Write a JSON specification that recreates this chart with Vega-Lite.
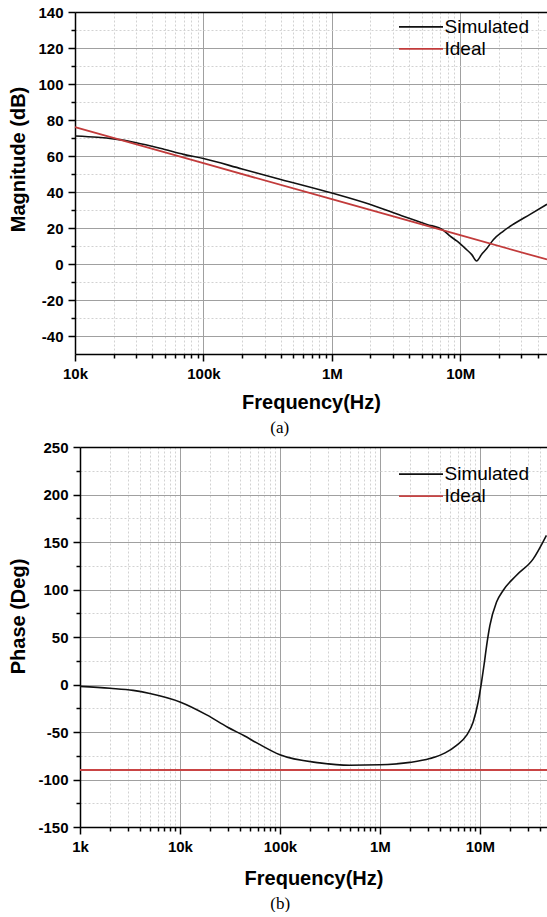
{
  "$schema": "https://vega.github.io/schema/vega-lite/v6.json",
  "background": "white",
  "padding": {"left": 8, "top": 5, "right": 0, "bottom": 0},
  "spacing": 4,
  "columns": 1,
  "align": "none",
  "config": {
    "view": {"stroke": null},
    "font": "Liberation Sans",
    "axis": {
      "labelFont": "Liberation Sans", "labelFontSize": 15, "labelFontWeight": "bold", "labelColor": "black",
      "titleFont": "Liberation Sans", "titleFontSize": 20, "titleFontWeight": "bold", "titleColor": "black",
      "domainColor": "black", "domainWidth": 1.5, "tickColor": "black", "tickWidth": 1.5,
      "labelOverlap": false, "labelFlush": false, "labelPadding": 5, "gridWidth": 1
    },
    "legend": {
      "labelFont": "Liberation Sans", "labelFontSize": 19, "labelColor": "black",
      "symbolType": "M-4,0H4", "symbolSize": 121, "symbolStrokeWidth": 1.8,
      "labelOffset": 14, "rowPadding": 2, "padding": 0, "orient": "none"
    },
    "title": {"font": "Liberation Serif", "fontSize": 17, "fontWeight": "normal", "color": "black", "orient": "bottom", "anchor": "middle", "frame": "bounds"}
  },
  "datasets": {
    "mag": [
      {"f": 10000, "v": 76, "series": "Ideal"},
      {"f": 100000, "v": 56, "series": "Ideal"},
      {"f": 1000000, "v": 36, "series": "Ideal"},
      {"f": 10000000, "v": 16, "series": "Ideal"},
      {"f": 47400000, "v": 2.5, "series": "Ideal"},
      {"f": 10000, "v": 71.1, "series": "Simulated"},
      {"f": 15000, "v": 70.4, "series": "Simulated"},
      {"f": 20000, "v": 69.5, "series": "Simulated"},
      {"f": 30000, "v": 67.4, "series": "Simulated"},
      {"f": 50000, "v": 63.6, "series": "Simulated"},
      {"f": 70000, "v": 60.9, "series": "Simulated"},
      {"f": 100000, "v": 58.6, "series": "Simulated"},
      {"f": 200000, "v": 52.8, "series": "Simulated"},
      {"f": 400000, "v": 47.0, "series": "Simulated"},
      {"f": 1000000, "v": 39.4, "series": "Simulated"},
      {"f": 2000000, "v": 33.0, "series": "Simulated"},
      {"f": 3500000, "v": 26.8, "series": "Simulated"},
      {"f": 5500000, "v": 22.0, "series": "Simulated"},
      {"f": 7400000, "v": 18.7, "series": "Simulated"},
      {"f": 8300000, "v": 15.6, "series": "Simulated"},
      {"f": 9400000, "v": 12.8, "series": "Simulated"},
      {"f": 11000000, "v": 8.5, "series": "Simulated"},
      {"f": 12300000, "v": 5.2, "series": "Simulated"},
      {"f": 13400000, "v": 1.7, "series": "Simulated"},
      {"f": 14700000, "v": 5.4, "series": "Simulated"},
      {"f": 16100000, "v": 8.6, "series": "Simulated"},
      {"f": 18100000, "v": 13.5, "series": "Simulated"},
      {"f": 21700000, "v": 18.3, "series": "Simulated"},
      {"f": 25900000, "v": 22.1, "series": "Simulated"},
      {"f": 35000000, "v": 27.6, "series": "Simulated"},
      {"f": 47400000, "v": 33.2, "series": "Simulated"}
    ],
    "phase": [
      {"f": 1000, "v": -90, "series": "Ideal"},
      {"f": 47000000, "v": -90, "series": "Ideal"},
      {"f": 1000, "v": -2, "series": "Simulated"},
      {"f": 2000, "v": -4, "series": "Simulated"},
      {"f": 3400, "v": -6.2, "series": "Simulated"},
      {"f": 5000, "v": -9.5, "series": "Simulated"},
      {"f": 10000, "v": -18.4, "series": "Simulated"},
      {"f": 18500, "v": -32, "series": "Simulated"},
      {"f": 30000, "v": -45, "series": "Simulated"},
      {"f": 44000, "v": -54, "series": "Simulated"},
      {"f": 60000, "v": -62, "series": "Simulated"},
      {"f": 100000, "v": -74, "series": "Simulated"},
      {"f": 250000, "v": -82.5, "series": "Simulated"},
      {"f": 500000, "v": -85, "series": "Simulated"},
      {"f": 1000000, "v": -84.5, "series": "Simulated"},
      {"f": 2000000, "v": -82, "series": "Simulated"},
      {"f": 3160000, "v": -78, "series": "Simulated"},
      {"f": 4500000, "v": -72, "series": "Simulated"},
      {"f": 5850000, "v": -64, "series": "Simulated"},
      {"f": 7360000, "v": -53.6, "series": "Simulated"},
      {"f": 8580000, "v": -39.5, "series": "Simulated"},
      {"f": 9620000, "v": -18.4, "series": "Simulated"},
      {"f": 10400000, "v": 2.6, "series": "Simulated"},
      {"f": 11000000, "v": 20, "series": "Simulated"},
      {"f": 11700000, "v": 41, "series": "Simulated"},
      {"f": 12600000, "v": 62, "series": "Simulated"},
      {"f": 14700000, "v": 86.8, "series": "Simulated"},
      {"f": 17100000, "v": 99, "series": "Simulated"},
      {"f": 23300000, "v": 115, "series": "Simulated"},
      {"f": 34100000, "v": 132, "series": "Simulated"},
      {"f": 46400000, "v": 157, "series": "Simulated"}
    ]
  },
  "resolve": {"scale": {"color": "independent"}},
  "concat": [
    {
      "width": 472,
      "height": 342,
      "title": {"text": "(a)", "offset": 8},
      "data": {"name": "mag"},
      "encoding": {
        "color": {
          "field": "series", "type": "nominal",
          "scale": {"domain": ["Simulated", "Ideal"], "range": ["#111111", "#c23b3b"]},
          "legend": {"title": null, "legendX": 336.5, "legendY": 5.3}
        },
        "y": {"field": "v", "type": "quantitative",
          "scale": {"domain": [-50, 140], "nice": false, "zero": false},
          "axis": {
            "title": "Magnitude (dB)", "titlePadding": 9, "titleY": 147, "grid": true,
            "values": [-40, -30, -20, -10, 0, 10, 20, 30, 40, 50, 60, 70, 80, 90, 100, 110, 120, 130, 140],
            "labelExpr": "datum.value % 20 == 0 ? '' + datum.value : ''",
            "tickSize": {"condition": {"test": "datum.value % 20 == 0", "value": 7}, "value": 4},
            "gridDash": {"condition": {"test": "datum.value % 20 == 0", "value": []}, "value": [2, 2]},
            "gridColor": {"condition": {"test": "datum.value % 20 == 0", "value": "#a0a0a0"}, "value": "#d2d2d2"}
          }}
      },
      "layer": [
        {
          "transform": [{"filter": "datum.series == 'Simulated'"}],
          "mark": {"type": "line", "strokeWidth": 1.6, "interpolate": "monotone"},
          "encoding": {
            "x": {"field": "f", "type": "quantitative",
              "scale": {"type": "log", "domain": [10000, 47400000], "nice": false},
              "axis": {
                "orient": "bottom", "title": "Frequency(Hz)", "titlePadding": 11, "grid": true,
                "values": [10000, 20000, 30000, 40000, 50000, 60000, 70000, 80000, 90000, 100000, 200000, 300000, 400000, 500000, 600000, 700000, 800000, 900000, 1000000, 2000000, 3000000, 4000000, 5000000, 6000000, 7000000, 8000000, 9000000, 10000000, 20000000, 30000000, 40000000],
                "labelExpr": "datum.value == 10000 ? '10k' : datum.value == 100000 ? '100k' : datum.value == 1000000 ? '1M' : datum.value == 10000000 ? '10M' : ''",
                "tickSize": {"condition": {"test": "indexof([10000,100000,1000000,10000000], datum.value) >= 0", "value": 7}, "value": 4},
                "gridDash": {"condition": {"test": "indexof([10000,100000,1000000,10000000], datum.value) >= 0", "value": []}, "value": [2, 2]},
                "gridColor": {"condition": {"test": "indexof([10000,100000,1000000,10000000], datum.value) >= 0", "value": "#a0a0a0"}, "value": "#d2d2d2"}
              }}
          }
        },
        {
          "transform": [{"filter": "datum.series == 'Ideal'"}],
          "mark": {"type": "line", "strokeWidth": 1.8},
          "encoding": {
            "x": {"field": "f", "type": "quantitative",
              "scale": {"type": "log", "domain": [10000, 47400000], "nice": false},
              "axis": {"orient": "top", "labels": false, "ticks": false, "grid": false, "title": null}}
          }
        }
      ],
      "resolve": {"axis": {"x": "independent"}}
    },
    {
      "width": 472,
      "height": 380,
      "title": {"text": "(b)", "offset": 8},
      "data": {"name": "phase"},
      "encoding": {
        "color": {
          "field": "series", "type": "nominal",
          "scale": {"domain": ["Simulated", "Ideal"], "range": ["#111111", "#c94444"]},
          "legend": {"title": null, "legendX": 336.5, "legendY": 17.7}
        },
        "y": {"field": "v", "type": "quantitative",
          "scale": {"domain": [-150, 250], "nice": false, "zero": false},
          "axis": {
            "title": "Phase (Deg)", "titlePadding": 9, "titleY": 169, "grid": true, "offset": -5,
            "values": [-150, -125, -100, -75, -50, -25, 0, 25, 50, 75, 100, 125, 150, 175, 200, 225, 250],
            "labelExpr": "datum.value % 50 == 0 ? '' + datum.value : ''",
            "tickSize": {"condition": {"test": "datum.value % 50 == 0", "value": 7}, "value": 4},
            "gridDash": {"condition": {"test": "datum.value % 50 == 0", "value": []}, "value": [2, 2]},
            "gridColor": {"condition": {"test": "datum.value % 50 == 0", "value": "#a0a0a0"}, "value": "#d2d2d2"}
          }}
      },
      "layer": [
        {
          "transform": [{"filter": "datum.series == 'Simulated'"}],
          "mark": {"type": "line", "strokeWidth": 1.6, "interpolate": "monotone"},
          "encoding": {
            "x": {"field": "f", "type": "quantitative",
              "scale": {"type": "log", "domain": [1000, 47000000], "nice": false, "range": [5, 472]},
              "axis": {
                "orient": "bottom", "title": "Frequency(Hz)", "titlePadding": 14, "grid": true,
                "values": [1000, 2000, 3000, 4000, 5000, 6000, 7000, 8000, 9000, 10000, 20000, 30000, 40000, 50000, 60000, 70000, 80000, 90000, 100000, 200000, 300000, 400000, 500000, 600000, 700000, 800000, 900000, 1000000, 2000000, 3000000, 4000000, 5000000, 6000000, 7000000, 8000000, 9000000, 10000000, 20000000, 30000000, 40000000],
                "labelExpr": "datum.value == 1000 ? '1k' : datum.value == 10000 ? '10k' : datum.value == 100000 ? '100k' : datum.value == 1000000 ? '1M' : datum.value == 10000000 ? '10M' : ''",
                "tickSize": {"condition": {"test": "indexof([1000,10000,100000,1000000,10000000], datum.value) >= 0", "value": 7}, "value": 4},
                "gridDash": {"condition": {"test": "indexof([1000,10000,100000,1000000,10000000], datum.value) >= 0", "value": []}, "value": [2, 2]},
                "gridColor": {"condition": {"test": "indexof([1000,10000,100000,1000000,10000000], datum.value) >= 0", "value": "#a0a0a0"}, "value": "#d2d2d2"}
              }}
          }
        },
        {
          "transform": [{"filter": "datum.series == 'Ideal'"}],
          "mark": {"type": "line", "strokeWidth": 2.2},
          "encoding": {
            "x": {"field": "f", "type": "quantitative",
              "scale": {"type": "log", "domain": [1000, 47000000], "nice": false, "range": [5, 472]},
              "axis": {"orient": "top", "labels": false, "ticks": false, "grid": false, "title": null}}
          }
        }
      ],
      "resolve": {"axis": {"x": "independent"}}
    }
  ]
}
